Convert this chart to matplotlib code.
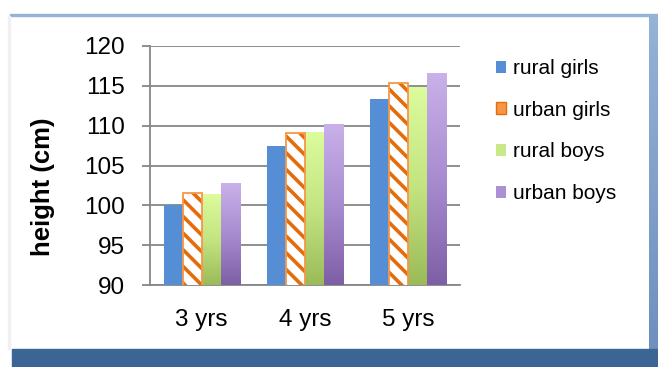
import numpy as np
import matplotlib
matplotlib.use('Agg')
import matplotlib.pyplot as plt
from matplotlib.colors import LinearSegmentedColormap
from matplotlib.patches import Rectangle, Patch

categories = ['3 yrs', '4 yrs', '5 yrs']
series_names = ['rural girls', 'urban girls', 'rural boys', 'urban boys']
rural_girls = [100.1, 107.4, 113.4]
urban_girls = [101.5, 109.1, 115.4]
rural_boys = [101.3, 109.1, 114.8]
urban_boys = [102.8, 110.1, 116.6]
y_ticks = [90, 95, 100, 105, 110, 115, 120]
y_label = 'height (cm)'

plt.rcParams['font.family'] = ['Liberation Sans', 'DejaVu Sans']
plt.rcParams['hatch.linewidth'] = 2.6

W, H = 658, 367
fig = plt.figure(figsize=(W / 100, H / 100), dpi=100)
fig.patch.set_facecolor('white')


def fx(px):
    return px / W


def fy(py):
    return 1 - py / H


# decorative frame
fig.patches.append(Rectangle((fx(10), fy(16)), 1 - fx(10), 2 / H, transform=fig.transFigure,
                             color='#95b3d7', zorder=0))
fig.patches.append(Rectangle((fx(12), 0), 1 - fx(12), fy(349), transform=fig.transFigure,
                             color='#3c6595', zorder=0))
fig.patches.append(Rectangle((fx(8), fy(349)), 2 / W, (349 - 16) / H, transform=fig.transFigure,
                             color='#f0f0f0', zorder=0))
axr = fig.add_axes([fx(649), fy(349), 1 - fx(649), (349 - 14) / H])
axr.imshow(np.linspace(0, 1, 100).reshape(-1, 1), aspect='auto',
           cmap=LinearSegmentedColormap.from_list('frame', ['#95b3d7', '#6f8fbf']),
           extent=[0, 1, 0, 1])
axr.axis('off')

ax = fig.add_axes([fx(150), fy(285), fx(460) - fx(150), (285 - 46) / H])

x = np.arange(len(categories))
bw = 0.184
offs = (np.arange(4) - 1.5) * bw

ax.bar(x + offs[0], rural_girls, bw, color='#558ed5', zorder=3)
ax.bar(x + offs[1], urban_girls, bw, color='white', edgecolor='#e46c0a', hatch='\\\\',
       linewidth=0, zorder=3)
ax.bar(x + offs[1], urban_girls, bw, facecolor='none', edgecolor='#f79646', linewidth=1.3, zorder=4)


def grad_bars(vals, off, colors, name):
    bars = ax.bar(x + off, vals, bw, facecolor='none', edgecolor='none', zorder=3)
    cmap = LinearSegmentedColormap.from_list(name, colors)
    for b in bars:
        x0 = b.get_x()
        w = b.get_width()
        h = b.get_height()
        ax.imshow(np.linspace(0, 1, 256).reshape(-1, 1), extent=[x0, x0 + w, y_ticks[0], h],
                  origin='lower', aspect='auto', cmap=cmap, zorder=3)


grad_bars(rural_boys, offs[2], ['#9bbb59', '#c4e481', '#dcfc9d'], 'green')
grad_bars(urban_boys, offs[3], ['#7d5fa6', '#a88cd0', '#c9b1e9'], 'purple')

ax.set_xlim(-0.5, 2.5)
ax.set_ylim(y_ticks[0], y_ticks[-1])
ax.set_yticks(y_ticks)
ax.set_xticks(x, categories)
ax.yaxis.grid(True, color='#868686', linewidth=1.3)
ax.set_axisbelow(True)
for s in ['top', 'right']:
    ax.spines[s].set_visible(False)
for s in ['left', 'bottom']:
    ax.spines[s].set_color('#868686')
    ax.spines[s].set_linewidth(1.3)
ax.tick_params(axis='y', length=6, width=1.3, color='#868686', pad=12, labelsize=17.5)
ax.tick_params(axis='x', length=0, pad=17, labelsize=17.5)

fig.text(fx(43), fy(187), y_label, rotation=90, fontsize=18.5, fontweight='bold',
         ha='center', va='center')

handles = [Patch(facecolor='#558ed5'),
           Patch(facecolor='#f79646', edgecolor='#e46c0a', linewidth=1),
           Patch(facecolor='#c8e88a'),
           Patch(facecolor='#ab90d2')]
fig.legend(handles, series_names, loc='upper left', bbox_to_anchor=(fx(496), fy(59)),
           frameon=False, fontsize=15, handlelength=0.5, handleheight=0.5,
           handletextpad=0.3, labelspacing=1.09, borderpad=0, borderaxespad=0)

fig.savefig('out.png', dpi=100)
